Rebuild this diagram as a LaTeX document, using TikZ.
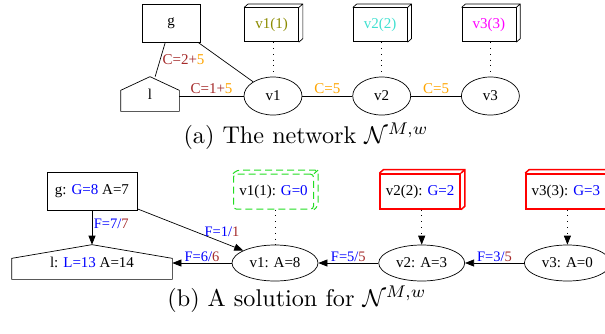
\documentclass[tikz,border=0pt]{standalone}
\usepackage{amsmath}
\usepackage{amssymb}
\usepackage{fontspec}
\newfontfamily\gvfont{Liberation Serif}
\usetikzlibrary{positioning, arrows.meta, shapes.geometric, calc}

\definecolor{gvbrown}{HTML}{A52A2A}
\definecolor{gvorange}{HTML}{FFA500}
\definecolor{gvolive}{HTML}{8B8B00}
\definecolor{gvturquoise}{HTML}{40E0D0}
\definecolor{gvmagenta}{HTML}{FF00FF}
\definecolor{gvblue}{HTML}{0000FF}
\definecolor{gvgreen}{HTML}{22DD22}
\definecolor{gvred}{HTML}{FF0000}

% Caption text (normal size, enlarged)
\newcommand{\subcap}[1]{\scalebox{2.42}{\fontsize{10}{12}\selectfont #1}}

\begin{document}
\begin{tikzpicture}[
	x=1pt, y=-1pt,
	line width=0.7pt,
	>={Triangle[length=9pt, width=7pt]},
	% Style for the plain boxes
	netbox/.style={
		rectangle,
		draw,
		minimum width=58pt,
		minimum height=38pt,
		inner sep=1pt,
		font=\gvfont\fontsize{15}{15}\selectfont
	},
	% Style for the ellipses
	netnode/.style={
		ellipse,
		draw,
		minimum width=58pt,
		minimum height=38pt,
		inner sep=0pt,
		font=\gvfont\fontsize{15}{15}\selectfont
	},
	% Style for the 3D boxes (front face plus back edges)
	box3d/.style={
		rectangle,
		#1,
		minimum width=54pt,
		minimum height=34pt,
		inner sep=1pt,
		font=\gvfont\fontsize{15}{15}\selectfont,
		append after command={\pgfextra{\draw[#1] (\tikzlastnode.north west) -- ++(4pt,3.5pt)
			-| ([shift={(4pt,3.5pt)}]\tikzlastnode.south east) -- (\tikzlastnode.south east)
			(\tikzlastnode.north east) -- ++(4pt,3.5pt);}}
	},
	box3d/.default={draw=black},
	% Style for the house shaped nodes
	house/.style={
		rectangle,
		minimum width=58pt,
		minimum height=34pt,
		inner sep=0pt,
		font=\gvfont\fontsize{15}{15}\selectfont,
		append after command={\pgfextra{\draw (\tikzlastnode.south west) -- (\tikzlastnode.south east)
			-- ([yshift=21pt]\tikzlastnode.south east) -- (\tikzlastnode.north)
			-- ([yshift=21pt]\tikzlastnode.south west) -- cycle;}}
	},
	% Edge labels
	clabel/.style={font=\gvfont\fontsize{15}{15}\selectfont, inner sep=2pt},
	flabel/.style={font=\gvfont\fontsize{14.5}{14.5}\selectfont, inner sep=1.5pt},
	dotty/.style={dash pattern=on 0.8pt off 5pt}
	]
	\useasboundingbox (0,0) rectangle (605,333);
	
	% --- (a) THE NETWORK ---
	
	\node[netbox] (G) at (171,23) {g};
	\node[house] (L) at (150,94) {l};
	\node[netnode] (V1) at (273,96) {v1};
	\node[netnode, right=50pt of V1] (V2) {v2};
	\node[netnode, right=50pt of V2] (V3) {v3};
	
	% Capacity boxes
	\node[box3d, above=34.5pt of V1, xshift=-1.5pt] (C1) {\textcolor{gvolive}{v1(1)}};
	\node[box3d, above=34.5pt of V2, xshift=-1.5pt] (C2) {\textcolor{gvturquoise}{v2(2)}};
	\node[box3d, above=34.5pt of V3, xshift=-1.5pt] (C3) {\textcolor{gvmagenta}{v3(3)}};
	
	\draw (G) -- node[clabel, right] {\textcolor{gvbrown}{C=2+}\textcolor{gvorange}{5}} (L);
	\draw (G) -- (V1);
	\draw (L.east |- V1) -- node[clabel, above] {\textcolor{gvbrown}{C=1+}\textcolor{gvorange}{5}} (V1);
	\draw (V1) -- node[clabel, above] {\textcolor{gvorange}{C=5}} (V2);
	\draw (V2) -- node[clabel, above] {\textcolor{gvorange}{C=5}} (V3);
	
	\draw[dotty] (C1.south -| V1) -- (V1);
	\draw[dotty] (C2.south -| V2) -- (V2);
	\draw[dotty] (C3.south -| V3) -- (V3);
	
	\node (CapA) at (306,136) {\subcap{(a) The network $\mathcal{N}^{M,w}$}};
	
	% --- (b) A SOLUTION ---
	
	\node[netbox, minimum width=90pt] (SG) at (92,191) {g: \textcolor{gvblue}{G=8} A=7};
	\node[house, minimum width=160pt] (SL) at (92,262) {l: \textcolor{gvblue}{L=13} A=14};
	\node[netnode, minimum width=86pt, minimum height=36pt] (SV1) at (275,263) {v1: A=8};
	\node[netnode, minimum width=86pt, minimum height=36pt, right=60pt of SV1] (SV2) {v2: A=3};
	\node[netnode, minimum width=86pt, minimum height=36pt, right=59pt of SV2] (SV3) {v3: A=0};
	
	% Flow boxes
	\node[box3d={draw=gvgreen, line width=1pt, dash pattern=on 7pt off 4pt, rounded corners=3pt},
		minimum width=80pt, minimum height=35pt, above=35pt of SV1, xshift=-1.5pt] (SC1) {v1(1): \textcolor{gvblue}{G=0}};
	\node[box3d={draw=gvred, line width=1.5pt}, minimum width=80pt, minimum height=35pt,
		above=35pt of SV2, xshift=-1.5pt] (SC2) {v2(2): \textcolor{gvblue}{G=2}};
	\node[box3d={draw=gvred, line width=1.5pt}, minimum width=80pt, minimum height=35pt,
		above=35pt of SV3, xshift=-1.5pt] (SC3) {v3(3): \textcolor{gvblue}{G=3}};
	
	\draw[->] (SG) -- node[flabel, right, pos=0.4] {\textcolor{gvblue}{F=7/}\textcolor{gvbrown}{7}} (SL);
	\draw[->] (SG) -- node[flabel, above=4pt, pos=0.8] {\textcolor{gvblue}{F=1/}\textcolor{gvbrown}{1}} (SV1);
	\draw[->] (SV1) -- node[flabel, above] {\textcolor{gvblue}{F=6/}\textcolor{gvbrown}{6}} (SL.east |- SV1);
	\draw[->] (SV2) -- node[flabel, above] {\textcolor{gvblue}{F=5/}\textcolor{gvbrown}{5}} (SV1);
	\draw[->] (SV3) -- node[flabel, above] {\textcolor{gvblue}{F=3/}\textcolor{gvbrown}{5}} (SV2);
	
	\draw[dotty] (SC1.south -| SV1) -- (SV1);
	\draw[dotty, ->] (SC2.south -| SV2) -- (SV2);
	\draw[dotty, ->] (SC3.south -| SV3) -- (SV3);
	
	\node (CapB) at (297,299) {\subcap{(b) A solution for $\mathcal{N}^{M,w}$}};
	
\end{tikzpicture}
\end{document}
